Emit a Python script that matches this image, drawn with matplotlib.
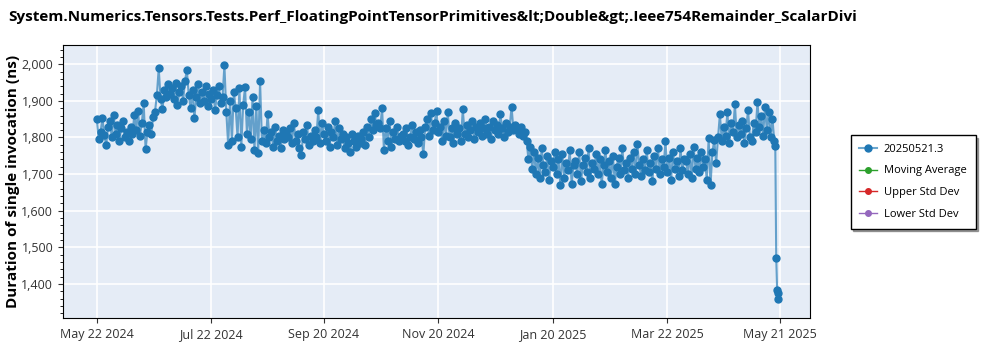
import pandas as pd
import numpy as np
import matplotlib
matplotlib.use('Agg')
import matplotlib.pyplot as plt
import matplotlib.dates as mdates
from matplotlib.ticker import FuncFormatter, AutoMinorLocator

plt.rcParams['font.family'] = ['Open Sans', 'DejaVu Sans']

title = 'System.Numerics.Tensors.Tests.Perf_FloatingPointTensorPrimitives&lt;Double&gt;.Ieee754Remainder_ScalarDivi'
series_name = '20250521.3'

# daily timings (ns), one list per month
may24 = [1850, 1795, 1815, 1852, 1808, 1779, 1830, 1845, 1800, 1862]
jun24 = [1810, 1835, 1790, 1825, 1845, 1800, 1815, 1790, 1830, 1810,
         1861, 1820, 1872, 1805, 1840, 1893, 1768, 1815, 1835, 1810,
         1855, 1870, 1915, 1989, 1905, 1877, 1930, 1910, 1945, 1920]
jul24 = [1935, 1905, 1950, 1890, 1925, 1940, 1900, 1955, 1984, 1915,
         1880, 1930, 1853, 1910, 1945, 1895, 1925, 1900, 1940, 1885,
         1920, 1905, 1930, 1875, 1915, 1940, 1895, 1910, 1997, 1870, 1780]
aug24 = [1900, 1790, 1925, 1880, 1800, 1935, 1775, 1890, 1937, 1810,
         1870, 1795, 1910, 1765, 1885, 1757, 1953, 1790, 1820, 1785,
         1864, 1800, 1815, 1775, 1830, 1790, 1805, 1770, 1820, 1795, 1810]
sep24 = [1800, 1825, 1785, 1840, 1790, 1810, 1770, 1752, 1815, 1795,
         1835, 1780, 1805, 1790, 1820, 1800, 1875, 1785, 1840, 1810,
         1790, 1830, 1775, 1815, 1800, 1845, 1780, 1825, 1795, 1810]
oct24 = [1770, 1800, 1785, 1760, 1810, 1790, 1775, 1805, 1785, 1795,
         1815, 1780, 1830, 1800, 1850, 1820, 1866, 1835, 1840, 1825,
         1880, 1765, 1825, 1790, 1845, 1775, 1815, 1795, 1830, 1790, 1805]
nov24 = [1810, 1790, 1825, 1780, 1800, 1835, 1795, 1815, 1785, 1820,
         1800, 1755, 1830, 1850, 1805, 1866, 1820, 1840, 1872, 1815,
         1830, 1790, 1845, 1805, 1869, 1800, 1825, 1785, 1840, 1810]
dec24 = [1825, 1790, 1877, 1810, 1835, 1800, 1820, 1845, 1795, 1830,
         1815, 1840, 1805, 1825, 1850, 1810, 1830, 1795, 1845, 1820,
         1835, 1810, 1864, 1825, 1800, 1840, 1815, 1830, 1883, 1820, 1835]
jan25 = [1825, 1810, 1830, 1805, 1815, 1790, 1740, 1775, 1715, 1760,
         1700, 1745, 1690, 1770, 1725, 1705, 1750, 1685, 1735, 1720,
         1760, 1700, 1740, 1670, 1755, 1690, 1730, 1710, 1765, 1673, 1725]
feb25 = [1735, 1700, 1760, 1680, 1725, 1745, 1705, 1770, 1690, 1730,
         1715, 1755, 1700, 1740, 1672, 1725, 1765, 1705, 1735, 1690,
         1750, 1674, 1720, 1745, 1700, 1770, 1710, 1730]
mar25 = [1690, 1745, 1715, 1760, 1700, 1782, 1725, 1695, 1740, 1710,
         1765, 1705, 1730, 1680, 1750, 1715, 1770, 1700, 1740, 1720,
         1790, 1705, 1745, 1685, 1760, 1715, 1735, 1695, 1770, 1710, 1740]
apr25 = [1735, 1700, 1755, 1690, 1774, 1715, 1745, 1705, 1760, 1720,
         1740, 1685, 1798, 1670, 1760, 1793, 1730, 1800, 1864, 1790,
         1830, 1805, 1869, 1785, 1840, 1815, 1891, 1800, 1835, 1810]
may25 = [1845, 1785, 1825, 1875, 1800, 1790, 1840, 1815, 1897, 1830,
         1860, 1805, 1883, 1820, 1870, 1800, 1850]

# last runs before the build
tail_times = ['2025-05-18 00:00', '2025-05-18 12:00', '2025-05-19 00:00',
              '2025-05-19 12:00', '2025-05-19 18:00', '2025-05-20 00:00']
tail_values = [1790, 1778, 1472, 1383, 1376, 1360]

daily = may24 + jun24 + jul24 + aug24 + sep24 + oct24 + nov24 + dec24 + \
        jan25 + feb25 + mar25 + apr25 + may25
dates = list(pd.date_range('2024-05-22', periods=len(daily), freq='D')) + \
        list(pd.to_datetime(tail_times))
values = daily + tail_values

tick_dates = pd.to_datetime(['2024-05-22', '2024-07-22', '2024-09-20', '2024-11-20',
                             '2025-01-20', '2025-03-22', '2025-05-21'])

fig = plt.figure(figsize=(10, 3.5), dpi=100)
ax = fig.add_axes([0.063, 0.091, 0.747, 0.78])
ax.set_facecolor('#e5ecf6')

blue = '#1f77b4'
ax.plot(dates, values, color=(0.12, 0.47, 0.71, 0.65), lw=1.5,
        marker='o', ms=5, mfc=blue, mec=blue, label=series_name, zorder=3)
ax.plot([], [], color='#2ca02c', marker='o', ms=4, lw=1, label='Moving Average')
ax.plot([], [], color='#d62728', marker='o', ms=4, lw=1, label='Upper Std Dev')
ax.plot([], [], color='#9467bd', marker='o', ms=4, lw=1, label='Lower Std Dev')

ax.set_xlim(pd.Timestamp('2024-05-04'), pd.Timestamp('2025-06-06'))
ax.set_ylim(1307, 2052)
ax.set_xticks(tick_dates)
ax.xaxis.set_major_formatter(mdates.DateFormatter('%b %d %Y'))
ax.yaxis.set_major_formatter(FuncFormatter(lambda v, p: f'{v:,.0f}'))
ax.yaxis.set_minor_locator(AutoMinorLocator(5))
ax.tick_params(labelsize=9, colors='#333333')
ax.tick_params(which='minor', length=2)
ax.grid(True, color='white', lw=1.2)
ax.set_axisbelow(True)
for s in ax.spines.values():
    s.set_color('black')

ax.set_ylabel('Duration of single invocation (ns)', fontsize=11, fontweight='bold')
ax.yaxis.set_label_coords(-0.058, 0.5)
fig.text(0.008, 0.95, title, fontsize=11, fontweight='bold', ha='left', va='center')

leg = fig.legend(loc='upper left', bbox_to_anchor=(0.845, 0.63), fontsize=8,
                 shadow=True, fancybox=False, edgecolor='black', framealpha=1,
                 handlelength=1.6, borderpad=0.8, labelspacing=0.95, handletextpad=0.6)
leg.get_frame().set_linewidth(1)

fig.savefig('out.png', dpi=100)
